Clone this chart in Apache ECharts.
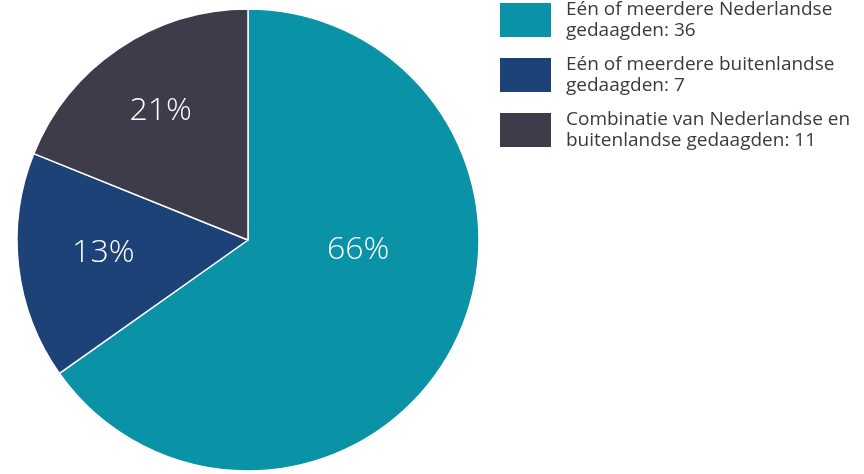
<!DOCTYPE html>
<html>
<head>
<meta charset="utf-8">
<script src="https://cdn.jsdelivr.net/npm/echarts@6/dist/echarts.min.js"></script>
<style>
  html, body { margin: 0; padding: 0; background: #fff; }
  #chart { width: 864px; height: 474px; }
</style>
</head>
<body>
<div id="chart"></div>
<script>
'use strict';
// legend names (line breaks as in the picture) and counts
var categories = [
	'Eén of meerdere Nederlandse\ngedaagden',
	'Eén of meerdere buitenlandse\ngedaagden',
	'Combinatie van Nederlandse en\nbuitenlandse gedaagden'
];
var counts = [36, 7, 11];
// slice sizes as drawn in the picture (share of the circle, %)
var shares = [65.2, 15.9, 18.9];
// printed labels on the slices
var pctLabels = ['66%', '13%', '21%'];
var colors = ['#0a93a6', '#1d4277', '#3e3c4b'];
// nudges so the labels sit where the original has them
var labelOffsets = [[5, -45], [-27, -1], [-21, -31]];

var chart = echarts.init(document.getElementById('chart'));

var data = [];
for (var i = 0; i < categories.length; i++) {
	data.push({
		name: categories[i],
		value: shares[i],
		itemStyle: { color: colors[i] },
		label: { formatter: pctLabels[i], offset: labelOffsets[i] }
	});
}

chart.setOption({
	animation: false,
	legend: {
		orient: 'vertical',
		left: 500,
		top: -1,
		padding: 0,
		itemWidth: 51,
		itemHeight: 34,
		itemGap: 13,
		icon: 'rect',
		selectedMode: false,
		itemStyle: { borderWidth: 0 },
		formatter: function (name) {
			return name + ': ' + counts[categories.indexOf(name)];
		},
		textStyle: {
			fontFamily: 'Open Sans',
			fontSize: 19,
			lineHeight: 21,
			color: '#3a3a3a',
			padding: [0, 0, 0, 10]
		}
	},
	series: [{
		type: 'pie',
		center: [248, 240],
		radius: 231,
		startAngle: 90,
		clockwise: true,
		silent: true,
		itemStyle: {
			borderColor: '#ffffff',
			borderWidth: 1.5
		},
		label: {
			show: true,
			position: 'inner',
			color: '#ffffff',
			fontFamily: 'Open Sans',
			fontWeight: 300,
			fontSize: 32
		},
		labelLine: { show: false },
		data: data
	}]
});
</script>
</body>
</html>
